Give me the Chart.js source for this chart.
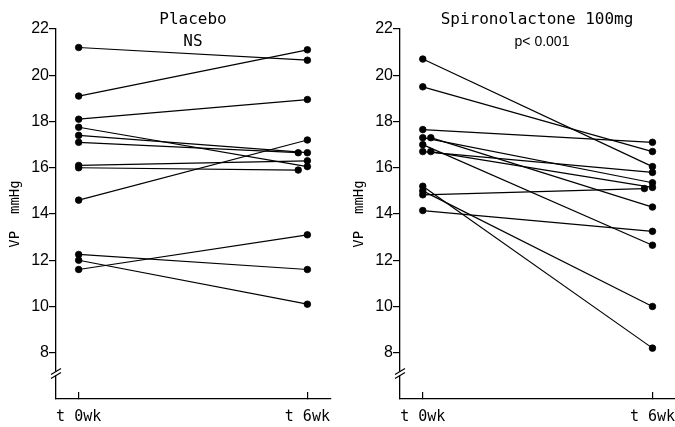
<!DOCTYPE html>
<html><head><meta charset="utf-8">
<script src="https://cdn.jsdelivr.net/npm/chart.js@4"></script>
<style>
html,body{margin:0;padding:0;background:#fff;width:675px;height:427px;overflow:hidden;position:relative}
#c1{position:absolute;left:0;top:0;width:340px;height:427px}
#c2{position:absolute;left:344px;top:0;width:337px;height:427px}
</style></head><body>
<canvas id="c1" width="340" height="427"></canvas>
<canvas id="c2" width="337" height="427"></canvas>
<script>
// ---- data ----
const timeTicks = [0, 6];
const timeLabels = ['t 0wk', 't 6wk'];
const yTicks = [8, 10, 12, 14, 16, 18, 20, 22];

const placeboTitle = 'Placebo';
const placeboStat = 'NS';
const placeboWk0 = [21.2, 19.1, 18.1, 17.75, 17.4, 17.1, 16.1, 16.0, 14.6, 12.25, 12.0, 11.6];
const placeboWk6 = [20.65, 21.1, 18.95, 16.05, 16.65, 16.65, 16.3, 15.9, 17.2, 11.6, 10.1, 13.1];
const placeboT0  = [0, 0, 0, 0, 0, 0, 0, 0, 0, 0, 0, 0];
const placeboT6  = [6, 6, 6, 6, 6, 5.76, 6, 5.76, 6, 6, 6, 6];

const spiroTitle = 'Spironolactone 100mg';
const spiroStat = 'p< 0.001';
const spiroWk0 = [20.7, 19.5, 17.65, 17.3, 17.3, 17.0, 16.7, 16.7, 15.2, 15.0, 14.83, 14.15];
const spiroWk6 = [16.05, 16.7, 17.1, 15.35, 14.3, 12.65, 15.8, 15.15, 8.2, 10.0, 15.1, 13.25];
const spiroT0  = [0, 0, 0, 0, 0.21, 0, 0, 0.21, 0, 0, 0, 0];
const spiroT6  = [6, 6, 6, 6, 6, 6, 6, 6, 6, 6, 5.79, 6];

// ---- helpers ----
const MONO = '"DejaVu Sans Mono", monospace';
const SANS = '"Liberation Sans", Arial, sans-serif';

const panelPlugin = {
  id: 'panel',
  afterDraw(chart, args, opts) {
    const ctx = chart.ctx;
    const a = chart.chartArea;
    const cx = a.left + opts.titleCenter;
    ctx.save();
    ctx.fillStyle = '#000';
    ctx.textAlign = 'center';
    ctx.textBaseline = 'middle';
    ctx.font = '16px ' + MONO;
    ctx.fillText(opts.title, cx, 20);
    ctx.font = opts.statFont;
    ctx.fillText(opts.stat, cx + (opts.statDx || 0), 42);
    // axis break
    const ys = chart.scales.y;
    const yb = ys.getPixelForValue(7.1);
    const x0 = a.left;
    ctx.fillStyle = '#fff';
    ctx.fillRect(x0 - 2, yb - 2, 4, 4);
    ctx.strokeStyle = '#000';
    ctx.lineWidth = 1.2;
    ctx.beginPath();
    ctx.moveTo(x0 - 5, yb - 2 + 3); ctx.lineTo(x0 + 5, yb - 2 - 3);
    ctx.moveTo(x0 - 5, yb + 2 + 3); ctx.lineTo(x0 + 5, yb + 2 - 3);
    ctx.stroke();
    ctx.restore();
  }
};

function makeDatasets(wk0, wk6, t0, t6) {
  return wk0.map((v, i) => ({
    data: [{x: t0[i], y: v}, {x: t6[i], y: wk6[i]}],
    borderColor: '#000',
    borderWidth: 1.2,
    pointRadius: 3.3,
    pointBorderWidth: 0.8,
    pointBackgroundColor: '#000',
    pointBorderColor: '#000',
    showLine: true,
    fill: false,
    tension: 0,
    clip: false
  }));
}

function makeChart(id, wk0, wk6, t0, t6, title, stat, statFont, rightPad, statDx) {
  return new Chart(document.getElementById(id), {
    type: 'scatter',
    data: { datasets: makeDatasets(wk0, wk6, t0, t6) },
    plugins: [panelPlugin],
    options: {
      responsive: false,
      animation: false,
      layout: { padding: { top: 29, right: rightPad, left: 0, bottom: 0 } },
      plugins: {
        legend: { display: false },
        tooltip: { enabled: false },
        panel: { title: title, stat: stat, statFont: statFont, statDx: statDx, titleCenter: 137 }
      },
      scales: {
        x: {
          type: 'linear',
          min: -0.595, max: 6.62,
          afterBuildTicks: s => { s.ticks = timeTicks.map(v => ({ value: v })); },
          afterFit: s => { s.height = 28; s.paddingLeft = 0; s.paddingRight = 0; },
          border: { color: '#000', width: 1.3 },
          grid: { drawOnChartArea: false, color: '#000', lineWidth: 1.2, tickLength: -7 },
          ticks: {
            color: '#000', padding: 16, maxRotation: 0, autoSkip: false,
            font: { family: MONO, size: 15 },
            callback: (v) => timeLabels[timeTicks.indexOf(v)]
          }
        },
        y: {
          type: 'linear',
          min: 6, max: 22,
          afterBuildTicks: s => { s.ticks = yTicks.map(v => ({ value: v })); },
          afterFit: s => { s.width = 56; s.paddingTop = 0; s.paddingBottom = 0; },
          border: { color: '#000', width: 1.3 },
          grid: { drawOnChartArea: false, color: '#000', lineWidth: 1.2, tickLength: 7 },
          ticks: { color: '#000', padding: 0, font: { family: SANS, size: 16 } },
          title: {
            display: true, text: 'VP  mmHg', color: '#000',
            font: { family: MONO, size: 14 }, padding: { top: 7, bottom: 0 }
          }
        }
      }
    }
  });
}

makeChart('c1', placeboWk0, placeboWk6, placeboT0, placeboT6, placeboTitle, placeboStat, '16px ' + MONO, 9, 0);
makeChart('c2', spiroWk0, spiroWk6, spiroT0, spiroT6, spiroTitle, spiroStat, '14px ' + SANS, 0, 5);
</script>
</body></html>
